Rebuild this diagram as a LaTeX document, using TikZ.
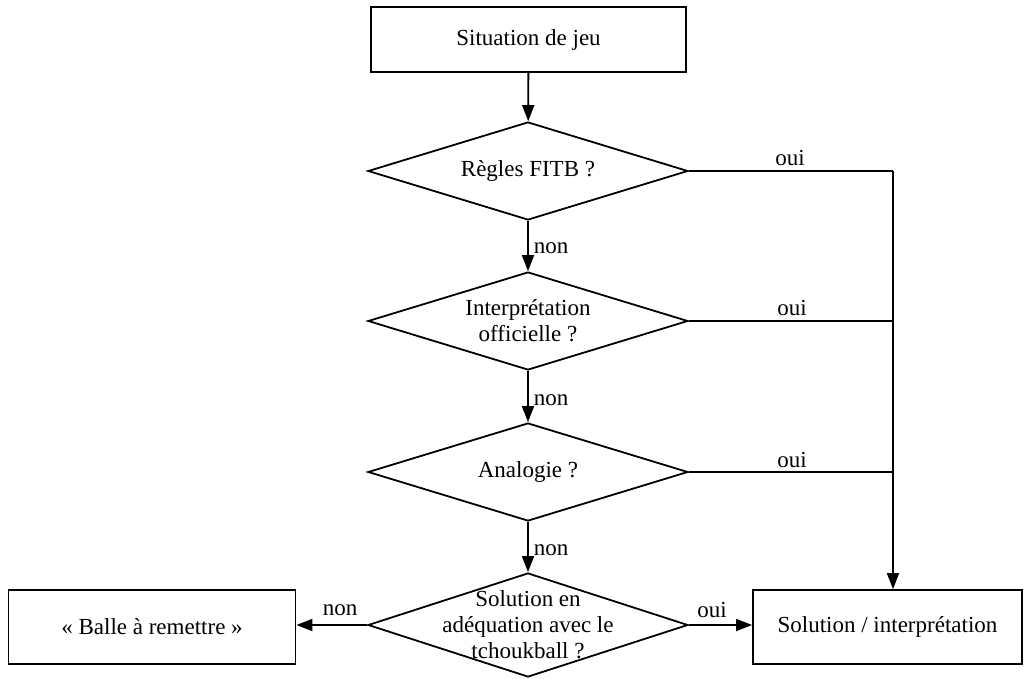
\documentclass[tikz,border=0pt]{standalone}
\usepackage{fontspec}
\setmainfont{Liberation Serif}
\usetikzlibrary{shapes.geometric,arrows.meta}
\begin{document}
\begin{tikzpicture}[x=1pt,y=-1pt,
  every node/.style={font=\fontsize{23}{26}\selectfont},
  box/.style={draw,line width=1.8pt,inner sep=0pt,align=center},
  dec/.style={draw,diamond,line width=1.8pt,inner sep=0pt,minimum width=320pt,minimum height=98pt,aspect=3.2},
  dtext/.style={inner sep=0pt,align=center},
  link/.style={line width=1.8pt},
  arr/.style={line width=1.8pt,-{Triangle[length=16pt,width=12pt]}},
  lab/.style={inner sep=0pt}]
\useasboundingbox (0,0) rectangle (1026,678);
\node[box,minimum width=315pt,minimum height=65pt] (start) at (528.5,39.5) {Situation de jeu};
\node[dec] (d1) at (528,171) {};
\node[dec] (d2) at (528,321) {};
\node[dec] (d3) at (528,472) {};
\node[dec,minimum height=104pt] (d4) at (528,625) {};
\node[dtext] (t1) at (d1.center) {Règles FITB ?};
\node[dtext] (t2) at (d2.center) {Interprétation\\officielle ?};
\node[dtext] (t3) at (d3.center) {Analogie ?};
\node[dtext] (t4) at (d4.center) {Solution en\\adéquation avec le\\tchoukball ?};
\node[box,minimum width=269pt,minimum height=74pt] (sol) at (887.5,627) {Solution / interprétation};
\node[box,minimum width=287pt,minimum height=74pt] (balle) at (152,627) {« Balle à remettre »};
\coordinate (j1) at (893,171);
\draw[arr] (start) -- (d1);
\draw[arr] (d1) -- (d2);
\draw[arr] (d2) -- (d3);
\draw[arr] (d3) -- (d4);
\draw[link] (d1.east) -- (j1);
\draw[link] (d2.east) -- (d2.east -| j1);
\draw[link] (d3.east) -- (d3.east -| j1);
\draw[arr] (j1) -- (sol.north -| j1);
\draw[arr] (d4.east) -- (d4.east -| sol.west);
\draw[arr] (d4.west) -- (d4.west -| balle.east);
\node[lab] (o1) at (790,158) {oui};
\node[lab] (o2) at (792,308) {oui};
\node[lab] (o3) at (792,460) {oui};
\node[lab] (o4) at (712,610) {oui};
\node[lab] (n1) at (551,248) {non};
\node[lab] (n2) at (551,400) {non};
\node[lab] (n3) at (551,550) {non};
\node[lab] (n4) at (340,610) {non};
\end{tikzpicture}
\end{document}
